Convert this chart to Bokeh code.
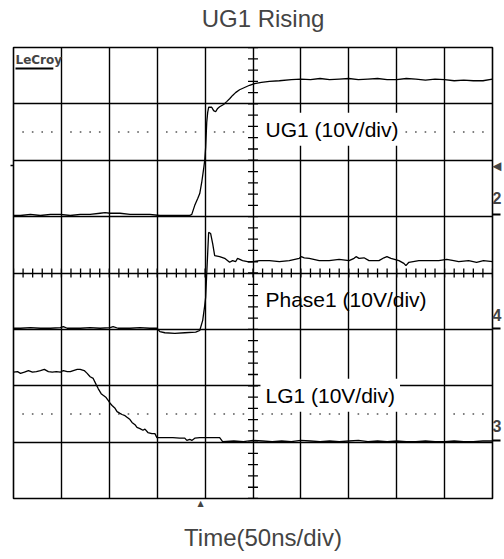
from bokeh.plotting import figure
from bokeh.models import Range1d, Grid, FixedTicker, Label, LinearAxis, CustomJSTickFormatter
from bokeh.embed import file_html
from bokeh.resources import INLINE
import numpy as np
import json

# ---- data (time in ns, voltage in V relative to each channel's ground marker) ----
ug1_t = [0, 7.3, 17.7, 28.1, 38.5, 48.9, 59.3, 69.6, 80, 90.4, 95.6, 100.8, 111.2, 121.6, 132, 142.4,
         152.8, 163.2, 173.6, 184, 186.1, 189.2, 192.3, 194.4, 196.5, 198.5, 199.6, 200.6, 201.7, 202.7,
         203.7, 206.9, 208.9, 211, 213.1, 215.2, 219.3, 222.5, 225.6, 228.7, 231.8, 236, 241.2, 246.4,
         251.6, 258.8, 267.2, 277.5, 290, 300, 310, 320, 330, 340, 350, 360, 370, 380, 390, 400, 410,
         420, 430, 440, 450, 460, 470, 480, 490, 500]
ug1_v = [-0.2, -0.2, 0.0, -0.2, 0.0, 0.0, -0.2, 0.0, 0.0, 0.2, 0.3, 0.2, 0.2, 0.0, 0.0, 0.0,
         -0.2, -0.2, -0.2, -0.2, 0.0, 1.6, 2.8, 3.7, 5.7, 8.1, 9.6, 11.9, 16.3, 18.1,
         19.0, 19.0, 18.4, 18.2, 18.8, 19.1, 19.5, 20.0, 20.5, 21.1, 21.6, 22.1, 22.5, 22.9,
         23.2, 23.4, 23.6, 23.7, 23.9, 24.0, 23.9, 24.1, 23.9, 24.0, 24.1, 23.9, 24.0, 24.1,
         23.9, 23.9, 24.1, 24.0, 23.8, 24.0, 23.9, 23.7, 23.8, 23.7, 23.7, 24.0]

ph1_t = [0, 7.3, 17.7, 28.1, 38.5, 48.9, 52, 56.1, 69.6, 80, 90.4, 100.8, 104, 109.1, 121.6, 132,
         142.4, 149.7, 152.8, 158, 168.4, 178.8, 190.2, 194.4, 197.5, 199.6, 200.6, 201.7, 202.7,
         203.7, 205.8, 207.9, 210, 215.2, 220.4, 225.6, 228.7, 231.8, 233.9, 239.1, 244.3, 249.5,
         256.8, 267.2, 277.5, 287.9, 298.3, 300.4, 303.5, 308.7, 319.1, 329.5, 339.9, 350.3, 355.5,
         357.6, 360.7, 365.9, 371.1, 381.5, 386.7, 389.8, 394, 402.3, 407.5, 409.6, 412.7, 423.1,
         433.5, 443.9, 452.2, 459.5, 464.7, 475.1, 483.4, 490.6, 500]
ph1_v = [0.0, 0.0, 0.1, 0.0, 0.0, 0.1, 0.3, 0.0, 0.0, 0.1, 0.0, 0.1, 0.3, 0.0, 0.0, 0.1,
         0.0, 0.0, -0.6, -0.8, -0.9, -0.8, -0.7, -0.4, 1.4, 4.0, 5.5, 9.7, 13.3,
         17.0, 16.8, 15.0, 12.9, 12.7, 12.4, 11.7, 12.0, 11.8, 12.4, 12.0, 11.8, 11.8,
         12.0, 12.0, 11.8, 12.0, 12.4, 12.7, 12.5, 12.4, 12.0, 12.0, 12.2, 12.0, 12.4,
         12.7, 12.4, 12.5, 12.0, 12.0, 12.5, 12.7, 12.4, 12.0, 11.5, 11.1, 11.7, 12.0,
         12.0, 12.0, 12.2, 12.0, 11.8, 12.0, 11.7, 12.0, 11.8]

lg1_t = [0, 4.2, 7.3, 11.4, 15.6, 19.8, 23.9, 28.1, 32.2, 36.4, 40.5, 44.7, 48.9, 52, 56.1, 59.3,
         62.4, 66.5, 69.6, 73.8, 76.9, 80, 83.2, 86.3, 88.4, 91.5, 93.6, 96.7, 98.8, 100.8, 102.9,
         106, 108.1, 111.2, 113.3, 116.4, 118.5, 121.6, 123.7, 126.8, 128.9, 132, 135.1, 137.2,
         140.3, 144.5, 147.6, 149.7, 158, 166.3, 173.6, 178.8, 180.9, 184, 186.1, 189.2, 194.4,
         204.8, 215.2, 218.3, 230, 240, 250, 260, 270, 280, 290, 300, 310, 320, 330, 340, 350,
         360, 370, 380, 390, 400, 410, 420, 430, 440, 450, 460, 470, 480, 490, 500]
lg1_v = [12.1, 12.2, 11.9, 12.1, 12.4, 12.1, 12.2, 12.4, 12.6, 12.2, 12.1, 12.2, 12.1, 12.4, 12.2, 12.2,
         12.4, 12.6, 12.6, 12.4, 11.9, 11.3, 11.0, 9.9, 9.2, 8.3, 8.0, 7.6, 7.1, 6.6, 6.2,
         5.7, 5.1, 4.8, 4.6, 4.4, 4.1, 3.7, 3.2, 2.8, 2.3, 2.1, 1.8, 2.0,
         1.4, 1.2, 1.2, 0.5, 0.5, 0.5, 0.4, 0.4, 0.0, 0.2, 0.0, 0.4, 0.5,
         0.5, 0.5, -0.2, -0.1, -0.2, 0.0, -0.1, -0.2, -0.1, -0.2, 0.0, -0.1, -0.2, -0.1, -0.2, -0.1,
         0.0, -0.2, -0.1, -0.2, -0.1, -0.2, -0.2, -0.1, -0.2, -0.2, -0.1, -0.2, -0.2, -0.1, -0.1]

channel_names = ["UG1 (10V/div)", "Phase1 (10V/div)", "LG1 (10V/div)"]
channel_ids = ["2", "4", "3"]
channel_ground_div = [1.04, -0.98, -2.97]   # ground marker position (divisions from centre)
channel_id_div = [1.33, -0.76, -2.72]       # where the channel number sits
trigger_level_div = 1.9
trigger_time_ns = 195.4
volts_per_div = 10
ns_per_div = 50
n_xdiv, n_ydiv = 10, 8
title_text = "UG1 Rising"
xlabel_text = "Time(50ns/div)"

FONT = "Liberation Sans"
t_max = ns_per_div * n_xdiv
frame_w, frame_h = 481, 451
ns_per_px = t_max / frame_w
div_per_px = n_ydiv / frame_h
y_top, y_bot = n_ydiv / 2, -n_ydiv / 2
NB = "\u00a0"


def mapping_formatter(pairs):
    return CustomJSTickFormatter(code="""
        const m = %s;
        for (const [v, s] of m) { if (Math.abs(tick - v) < 1e-6) return s; }
        return "";
    """ % json.dumps(pairs))


p = figure(width=504, height=559, output_backend="svg", toolbar_location=None,
           x_range=Range1d(0, t_max), y_range=Range1d(y_bot, y_top),
           x_axis_type=None, y_axis_type=None,
           min_border_left=13, min_border_right=10, min_border_top=47, min_border_bottom=61)
p.title.visible = False
p.background_fill_color = "white"
p.border_fill_color = "white"
p.outline_line_color = "black"
p.outline_line_width = 1.6

# top axis carrying the chart title
tax = LinearAxis(ticker=FixedTicker(ticks=[]), axis_line_color=None,
                 major_tick_line_color=None, minor_tick_line_color=None,
                 major_tick_out=0, minor_tick_out=0, major_label_text_font_size="0px",
                 major_label_standoff=0,
                 axis_label=NB * 3 + title_text, axis_label_text_font=FONT,
                 axis_label_text_font_size="24px", axis_label_text_font_style="normal",
                 axis_label_standoff=16)
p.add_layout(tax, "above")

# bottom axis: trigger marker + time label
xax = LinearAxis(ticker=FixedTicker(ticks=[trigger_time_ns]),
                 formatter=mapping_formatter([[trigger_time_ns, "\u25b2"]]),
                 axis_line_color=None, major_tick_line_color=None, minor_tick_line_color=None,
                 major_tick_out=0, minor_tick_out=0,
                 major_label_text_font="DejaVu Sans", major_label_text_font_size="8px",
                 major_label_standoff=0,
                 axis_label=NB * 3 + xlabel_text, axis_label_text_font=FONT,
                 axis_label_text_font_size="24px", axis_label_text_font_style="normal",
                 axis_label_standoff=13)
p.add_layout(xax, "below")

# right axis: channel ground markers and trigger arrow
rpairs = [[v, s] for v, s in zip(channel_id_div, channel_ids)] + [[trigger_level_div, "\u25c2"]]
rax = LinearAxis(ticker=FixedTicker(ticks=channel_id_div + [trigger_level_div],
                                    minor_ticks=channel_ground_div),
                 formatter=mapping_formatter(rpairs),
                 axis_line_color=None, major_tick_line_color=None, major_tick_out=0,
                 minor_tick_line_color="black", minor_tick_line_width=2,
                 minor_tick_in=0, minor_tick_out=8,
                 major_label_text_font=FONT, major_label_text_font_style="bold",
                 major_label_text_font_size="16px", major_label_standoff=-8)
p.add_layout(rax, "right")

# left axis: trigger level tick only
lax = LinearAxis(ticker=FixedTicker(ticks=[], minor_ticks=[trigger_level_div]),
                 axis_line_color=None, major_tick_line_color=None, major_tick_out=0,
                 minor_tick_line_color="black", minor_tick_line_width=1.5,
                 minor_tick_in=0, minor_tick_out=3, major_label_text_font_size="0px")
p.add_layout(lax, "left")

# grid
p.add_layout(Grid(dimension=0, ticker=FixedTicker(ticks=list(np.arange(0, t_max + 1, ns_per_div))),
                  grid_line_color="black", grid_line_width=1.4))
p.add_layout(Grid(dimension=1, ticker=FixedTicker(ticks=list(np.arange(y_bot, y_top + 1, 1))),
                  grid_line_color="black", grid_line_width=1.4))

# centre cross minor ticks
yt = np.arange(y_bot, y_top + 0.001, 0.2)
p.segment(x0=t_max / 2 - 5 * ns_per_px, x1=t_max / 2 + 5 * ns_per_px, y0=yt, y1=yt,
          line_color="black", line_width=1.3)
xt = np.arange(0, t_max + 0.1, ns_per_div / 5)
p.segment(x0=xt, x1=xt, y0=-4.5 * div_per_px, y1=4.5 * div_per_px, line_color="black", line_width=1.3)

# dotted reference rows
dx = [t for t in np.arange(10, t_max, 10) if t % ns_per_div != 0]
for yy in (2.5, -2.5):
    p.scatter(x=dx, y=[yy] * len(dx), marker="square", size=1.6, color="#555555", line_color=None)

# traces
traces = [(ug1_t, ug1_v), (ph1_t, ph1_v), (lg1_t, lg1_v)]
for (tt, vv), g in zip(traces, channel_ground_div):
    p.line(tt, [v / volts_per_div + g for v in vv], line_color="black", line_width=1.3)

# channel labels
label_y = [2.55, -0.47, -2.17]
label_bg = ["white", None, "white"]
for name, yy, bg in zip(channel_names, label_y, label_bg):
    lab = Label(x=248 * ns_per_px, y=yy, text=name, text_font=FONT,
                text_font_size="21px", text_baseline="middle", text_color="black",
                background_fill_color=bg, padding=5)
    p.add_layout(lab)

# LeCroy logo
p.add_layout(Label(x=0, y=y_top, text="LeCroy", text_font="DejaVu Sans", text_font_style="bold",
                   text_font_size="12px", text_baseline="top", x_offset=2, y_offset=-5))
p.segment(x0=[2 * ns_per_px], x1=[40 * ns_per_px], y0=[y_top - 21 * div_per_px],
          y1=[y_top - 21 * div_per_px], line_color="black", line_width=2)

open("out.html", "w").write(file_html(p, INLINE))
